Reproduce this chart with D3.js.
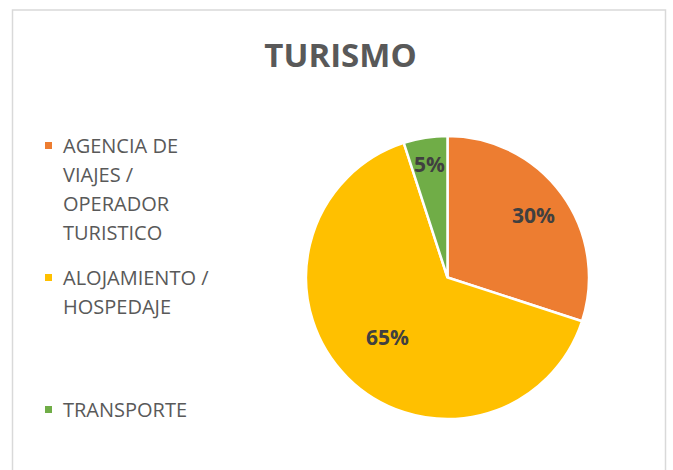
<!DOCTYPE html>
<html>
<head>
    <meta charset="utf-8">
    <title>Turismo</title>
    <script src="https://cdnjs.cloudflare.com/ajax/libs/d3/7.8.5/d3.min.js"></script>
</head>
<style media="screen">
    body { margin: 0; background: #fff; }
    .title { font-family: "Open Sans", sans-serif; font-weight: bold; font-size: 33px; fill: #595959; }
    .legend text { font-family: "Open Sans", sans-serif; font-size: 20px; fill: #595959; }
    .label { font-family: "Open Sans", sans-serif; font-weight: bold; font-size: 21px; fill: #404040; }
    .slice { stroke: #fff; stroke-width: 2.5px; }
</style>

<body>
    <script>
        // data
        var categories = ["AGENCIA DE VIAJES / OPERADOR TURISTICO", "ALOJAMIENTO / HOSPEDAJE", "TRANSPORTE"];
        var values = [30, 65, 5];
        var colors = ["#ED7D31", "#FFC000", "#70AD47"];
        var title = "TURISMO";

        var w = 673, h = 470;
        var cx = 447.5, cy = 277.5, r = 141.5;
        // how far out each percent label sits (fraction of radius)
        var labelPos = [0.75, 0.6, 0.81];

        var svg = d3.select("body")
            .append("svg")
            .attr("width", w)
            .attr("height", h);

        // chart border
        svg.append("rect")
            .attr("x", 12.5)
            .attr("y", 10)
            .attr("width", 653)
            .attr("height", 490)
            .attr("fill", "none")
            .attr("stroke", "#d9d9d9")
            .attr("stroke-width", 1.5);

        svg.append("text")
            .attr("class", "title")
            .attr("x", 340.5)
            .attr("y", 67)
            .attr("text-anchor", "middle")
            .text(title);

        var total = d3.sum(values);
        var pie = d3.pie().sort(null).value(function(d) { return d; });
        var arcs = pie(values);
        var arc = d3.arc().innerRadius(0).outerRadius(r);

        var g = svg.append("g")
            .attr("transform", "translate(" + cx + "," + cy + ")");

        g.selectAll("path.slice")
            .data(arcs)
            .enter()
            .append("path")
            .attr("class", "slice")
            .attr("fill", function(d, i) { return colors[i]; })
            .attr("d", arc);

        g.selectAll("text.label")
            .data(arcs)
            .enter()
            .append("text")
            .attr("class", "label")
            .attr("text-anchor", "middle")
            .attr("dy", "0.36em")
            .attr("transform", function(d, i) {
                var lr = r * labelPos[i];
                var c = d3.arc().innerRadius(lr).outerRadius(lr).centroid(d);
                return "translate(" + c + ")";
            })
            .text(function(d) { return Math.round(d.value / total * 100) + "%"; });

        // legend, entries in evenly spaced slots, text wrapped
        var legend = svg.append("g").attr("class", "legend");
        var slot = 132, firstBase = 153, lineH = 29, maxW = 170;

        categories.forEach(function(cat, i) {
            var base = firstBase + i * slot;
            legend.append("rect")
                .attr("x", 45)
                .attr("y", base - 11)
                .attr("width", 7)
                .attr("height", 7)
                .attr("fill", colors[i]);

            var t = legend.append("text").attr("x", 63).attr("y", base);
            var words = cat.split(" "), line = [], n = 0;
            var tspan = t.append("tspan").attr("x", 63).attr("y", base);
            words.forEach(function(word) {
                line.push(word);
                tspan.text(line.join(" "));
                if (tspan.node().getComputedTextLength() > maxW && line.length > 1) {
                    line.pop();
                    tspan.text(line.join(" "));
                    line = [word];
                    n++;
                    tspan = t.append("tspan").attr("x", 63).attr("y", base + n * lineH).text(word);
                }
            });
        });
    </script>
</body>

</html>
